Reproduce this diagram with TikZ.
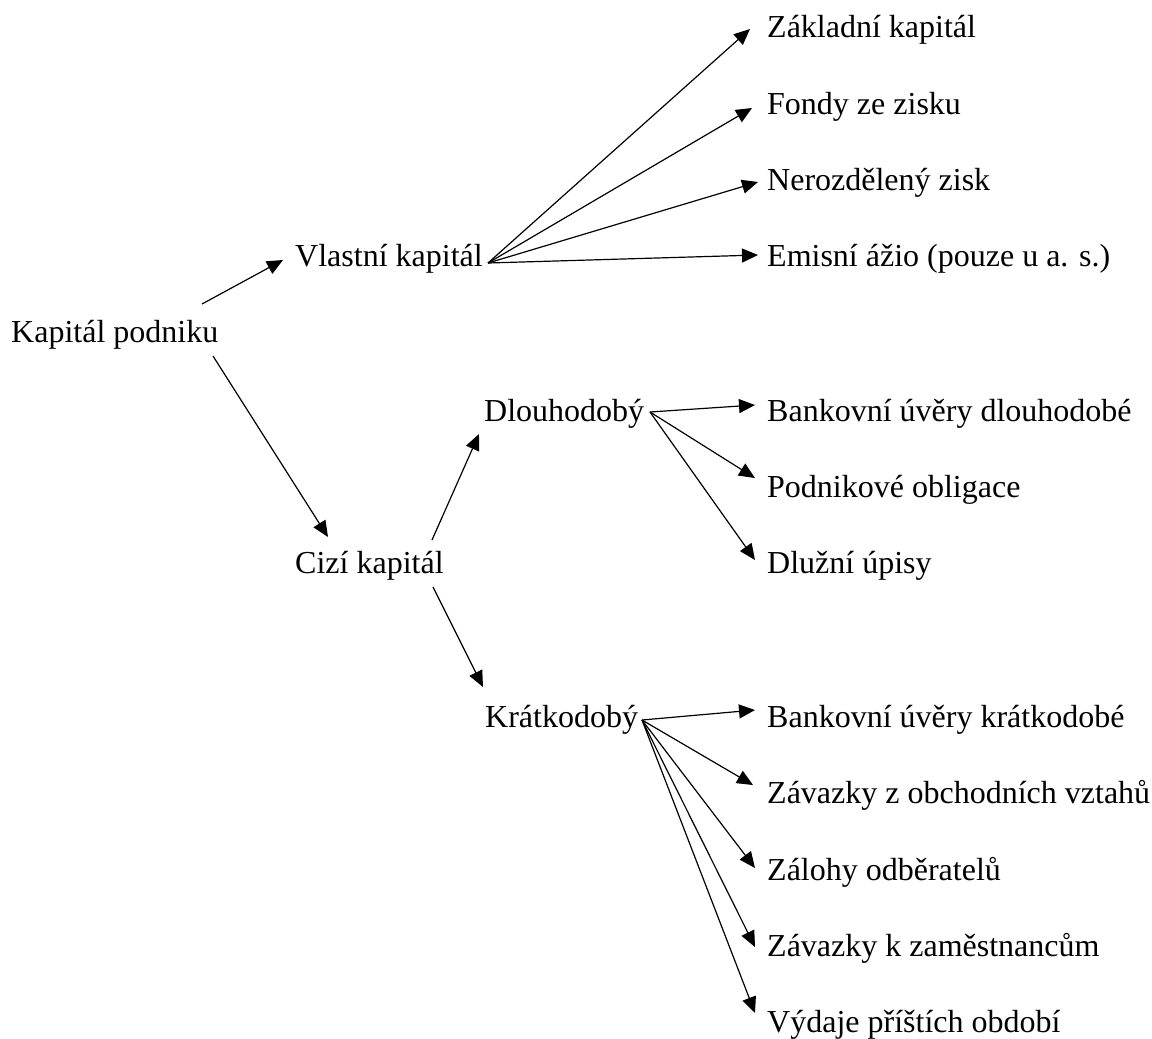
\documentclass[tikz,border=0pt]{standalone}
\usepackage{fontspec}
\setmainfont{Liberation Serif}
\usetikzlibrary{arrows.meta}
\begin{document}
\begin{tikzpicture}[x=1pt,y=-1pt,
  lbl/.style={anchor=base west,inner sep=0pt,font=\fontsize{32}{38}\selectfont},
  arr/.style={line width=1.2pt,-{Triangle[length=16pt,width=14pt]}}]
\useasboundingbox (0,0) rectangle (1152,1039);
% nodes
\node[lbl] (kp) at (11,342) {Kapitál podniku};
\node[lbl] (vk) at (295,266) {Vlastní kapitál};
\node[lbl] (ck) at (295,573) {Cizí kapitál};
\node[lbl] (dl) at (484,421) {Dlouhodobý};
\node[lbl] (kr) at (485,727) {Krátkodobý};
\node[lbl] (v1) at (767,37) {Základní kapitál};
\node[lbl] (v2) at (767,114) {Fondy ze zisku};
\node[lbl] (v3) at (767,190) {Nerozdělený zisk};
\node[lbl] (v4) at (767,266) {Emisní ážio (pouze u a. s.)};
\node[lbl] (d1) at (767,421) {Bankovní úvěry dlouhodobé};
\node[lbl] (d2) at (767,497) {Podnikové obligace};
\node[lbl] (d3) at (767,573) {Dlužní úpisy};
\node[lbl] (k1) at (767,727) {Bankovní úvěry krátkodobé};
\node[lbl] (k2) at (767,803) {Závazky z obchodních vztahů};
\node[lbl] (k3) at (767,880) {Zálohy odběratelů};
\node[lbl] (k4) at (767,956) {Závazky k zaměstnancům};
\node[lbl] (k5) at (767,1032) {Výdaje příštích období};
% connector ends
\coordinate (kp-o1) at (202,304);
\coordinate (kp-o2) at (213,356);
\coordinate (vk-in) at (283,260);
\coordinate (ck-in) at (328,537);
\coordinate (ck-o1) at (432,540);
\coordinate (ck-o2) at (433,587);
\coordinate (dl-in) at (479,434);
\coordinate (kr-in) at (483,687);
\coordinate (vk-o) at (488,263);
\coordinate (dl-o) at (650,412);
\coordinate (kr-o) at (642,720);
\coordinate (v1-in) at (750,29);
\coordinate (v2-in) at (752,108);
\coordinate (v3-in) at (758,182);
\coordinate (v4-in) at (758,255);
\coordinate (d1-in) at (755,405);
\coordinate (d2-in) at (755,478);
\coordinate (d3-in) at (755,560);
\coordinate (k1-in) at (755,710);
\coordinate (k2-in) at (753,785);
\coordinate (k3-in) at (755,868);
\coordinate (k4-in) at (755,947);
\coordinate (k5-in) at (755,1013);
% connectors
\draw[arr] (kp-o1) -- (vk-in);
\draw[arr] (kp-o2) -- (ck-in);
\draw[arr] (ck-o1) -- (dl-in);
\draw[arr] (ck-o2) -- (kr-in);
\foreach \t in {v1,v2,v3,v4} \draw[arr] (vk-o) -- (\t-in);
\foreach \t in {d1,d2,d3} \draw[arr] (dl-o) -- (\t-in);
\foreach \t in {k1,k2,k3,k4,k5} \draw[arr] (kr-o) -- (\t-in);
\end{tikzpicture}
\end{document}
